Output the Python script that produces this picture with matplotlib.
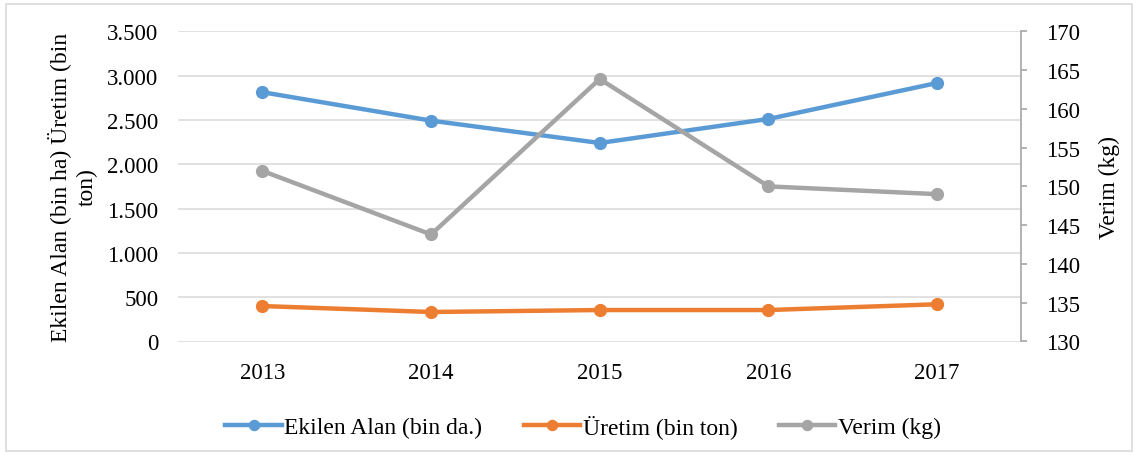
import matplotlib
matplotlib.use("Agg")
import matplotlib.pyplot as plt
from matplotlib.patches import FancyBboxPatch
from matplotlib.ticker import FuncFormatter, MultipleLocator

years = ["2013", "2014", "2015", "2016", "2017"]
ekilen = [2813, 2492, 2240, 2511, 2917]
uretim = [400, 333, 355, 355, 420]
verim = [152.0, 143.8, 163.85, 150.0, 149.0]

plt.rcParams['font.family'] = ['Liberation Serif', 'DejaVu Serif']
plt.rcParams['font.size'] = 16.5

fig = plt.figure(figsize=(11.38, 4.56), dpi=100)
ax = fig.add_axes([178/1138, 1 - 342.5/456, (1021.5 - 178)/1138, (342.5 - 32.3)/456])
ax2 = ax.twinx()

# outer border
fig.patches.append(FancyBboxPatch((6/1138, 4/456), 1126/1138, 447/456,
                                  boxstyle="square,pad=0", transform=fig.transFigure,
                                  fill=False, edgecolor="#D9D9D9", linewidth=1.2))

x = list(range(len(years)))
c_blue, c_orange, c_gray = "#5B9BD5", "#ED7D31", "#A5A5A5"
l1, = ax.plot(x, ekilen, color=c_blue, lw=3.2, marker='o', ms=8.5, label="Ekilen Alan (bin da.)", zorder=3)
l2, = ax.plot(x, uretim, color=c_orange, lw=3.2, marker='o', ms=8.5, label="Üretim (bin ton)", zorder=3)
l3, = ax2.plot(x, verim, color=c_gray, lw=3.2, marker='o', ms=8.5, label="Verim (kg)", zorder=3)

ax.set_xlim(-0.5, 4.5)
ax.set_ylim(0, 3500)
ax2.set_ylim(130, 170)
ax.yaxis.set_major_locator(MultipleLocator(500))
ax2.yaxis.set_major_locator(MultipleLocator(5))
ax.yaxis.set_major_formatter(FuncFormatter(lambda v, p: f"{int(v):,}".replace(",", ".")))
ax.set_xticks(x)
ax.set_xticklabels(years)

ax.grid(axis='y', color="#D9D9D9", lw=1.1)
ax.set_axisbelow(True)
for s in ['top', 'left', 'right', 'bottom']:
    ax.spines[s].set_visible(False)
for s in ['top', 'left', 'bottom']:
    ax2.spines[s].set_visible(False)
ax2.spines['right'].set_color("#A6A6A6")
ax2.spines['right'].set_linewidth(1.2)

ax.tick_params(axis='x', length=0, pad=15)
ax.tick_params(axis='y', length=0, pad=14)
ax2.tick_params(axis='y', length=4, width=1.2, color="#A6A6A6", pad=14)

ax.set_ylabel("Ekilen Alan (bin ha) Üretim (bin\nton)", linespacing=1.35, labelpad=7, fontsize=17)
ax2.set_ylabel("Verim (kg)", labelpad=13, fontsize=17)

fig.legend(handles=[l1, l2, l3], loc='center', bbox_to_anchor=(583/1138, 1 - 427/456),
           ncol=3, frameon=False, handlelength=2.4, columnspacing=1.75, handletextpad=0.1,
           fontsize=17, markerscale=0.85)

fig.savefig("out.png", dpi=100)
